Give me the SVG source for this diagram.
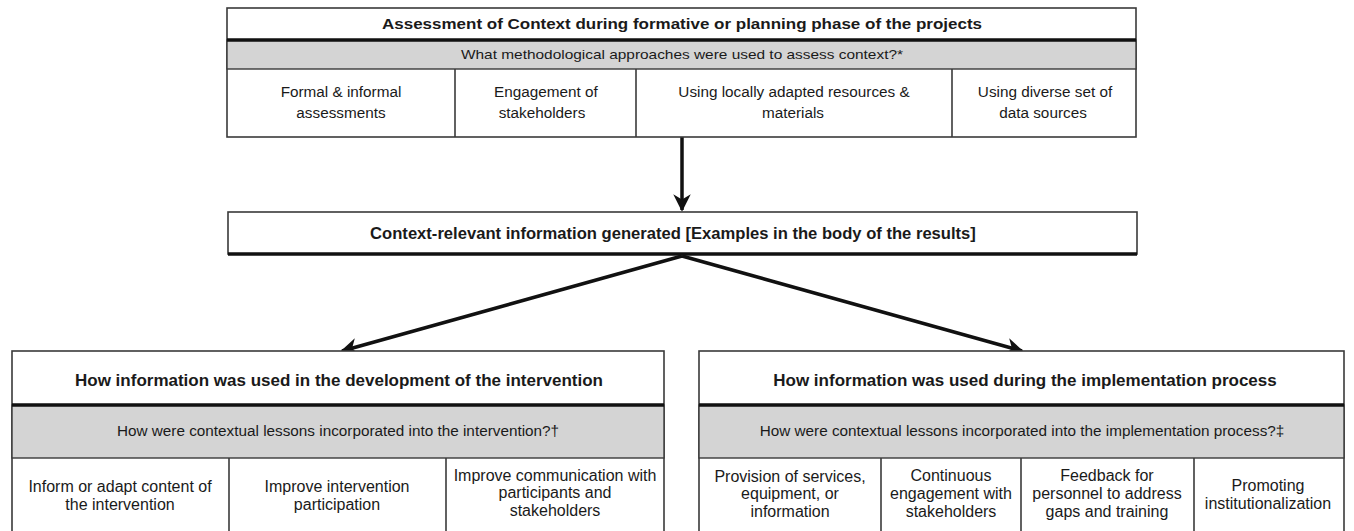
<svg xmlns="http://www.w3.org/2000/svg" width="1354" height="531" viewBox="0 0 1354 531">
<style>
.box{fill:#fff;stroke:#3a3a3a;stroke-width:1.6}
.gray{fill:#d4d4d4;stroke:#3a3a3a;stroke-width:1.4}
.thick{stroke:#111;stroke-width:3.5}
.div{stroke:#3a3a3a;stroke-width:1.6}
text{font-family:"Liberation Sans",Arial,sans-serif;fill:#1a1a1a;text-anchor:middle}
.n{font-family:"Liberation Sans Narrow","Arial Narrow","Liberation Sans",sans-serif}
.t{font-size:15px;font-weight:bold}
.g{font-size:13px}
.c{font-size:15.3px}
.h{font-size:17px;font-weight:bold}
.m{font-size:16.6px;font-weight:bold}
.gn{font-size:15.3px}
.r{font-size:16px}
.conn{stroke:#111;stroke-width:3.5;fill:none}
</style>
<defs>
<marker id="ah" viewBox="0 0 10 10" refX="9" refY="5" markerWidth="5" markerHeight="5" markerUnits="strokeWidth" orient="auto">
<path d="M0,0 L10,5 L0,10 L3,5 Z" fill="#111"/>
</marker>
</defs>

<g id="connectors">
<line class="conn" x1="682" y1="137" x2="682" y2="210" marker-end="url(#ah)"/>
<line class="conn" x1="682" y1="256" x2="342" y2="351" marker-end="url(#ah)"/>
<line class="conn" x1="682" y1="256" x2="1022" y2="351" marker-end="url(#ah)"/>
</g>

<g id="assessment">
<rect class="box" x="227" y="8" width="909" height="129"/>
<rect class="gray" x="227" y="40" width="909" height="29"/>
<line class="thick" x1="227" y1="40" x2="1136" y2="40"/>
<line class="div" x1="455" y1="69" x2="455" y2="137"/>
<line class="div" x1="636" y1="69" x2="636" y2="137"/>
<line class="div" x1="952" y1="69" x2="952" y2="137"/>
<text class="t" x="682" y="29" textLength="600" lengthAdjust="spacingAndGlyphs">Assessment of Context during formative or planning phase of the projects</text>
<text class="g" x="682" y="59" textLength="442" lengthAdjust="spacingAndGlyphs">What methodological approaches were used to assess context?*</text>
<text class="c" x="341" y="97">Formal &amp; informal</text>
<text class="c" x="341" y="118">assessments</text>
<text class="c" x="546" y="97">Engagement of</text>
<text class="c" x="542" y="118">stakeholders</text>
<text class="c" x="794" y="97">Using locally adapted resources &amp;</text>
<text class="c" x="793" y="118">materials</text>
<text class="c" x="1045" y="97">Using diverse set of</text>
<text class="c" x="1043" y="118">data sources</text>
</g>

<g id="context-info">
<rect class="box" x="228" y="212" width="909" height="42"/>
<line class="thick" x1="228" y1="254" x2="1137" y2="254"/>
<text class="m n" x="673" y="239">Context-relevant information generated [Examples in the body of the results]</text>
</g>

<g id="development">
<rect class="box" x="12" y="351" width="652" height="190"/>
<rect class="gray" x="12" y="405" width="652" height="53"/>
<line class="thick" x1="12" y1="405" x2="664" y2="405"/>
<line class="div" x1="229" y1="458" x2="229" y2="541"/>
<line class="div" x1="446" y1="458" x2="446" y2="541"/>
<text class="h n" x="339" y="386">How information was used in the development of the intervention</text>
<text class="gn n" x="338" y="436">How were contextual lessons incorporated into the intervention?†</text>
<text class="r n" x="120" y="492">Inform or adapt content of</text>
<text class="r n" x="120" y="510">the intervention</text>
<text class="r n" x="337" y="492">Improve intervention</text>
<text class="r n" x="337" y="510">participation</text>
<text class="r n" x="555" y="481">Improve communication with</text>
<text class="r n" x="555" y="498">participants and</text>
<text class="r n" x="555" y="516">stakeholders</text>
</g>

<g id="implementation">
<rect class="box" x="699" y="351" width="645" height="190"/>
<rect class="gray" x="699" y="405" width="645" height="53"/>
<line class="thick" x1="699" y1="405" x2="1344" y2="405"/>
<line class="div" x1="881" y1="458" x2="881" y2="541"/>
<line class="div" x1="1021" y1="458" x2="1021" y2="541"/>
<line class="div" x1="1194" y1="458" x2="1194" y2="541"/>
<text class="h n" x="1025" y="386">How information was used during the implementation process</text>
<text class="gn n" x="1022" y="436">How were contextual lessons incorporated into the implementation  process?‡</text>
<text class="r n" x="790" y="482">Provision of services,</text>
<text class="r n" x="790" y="499">equipment, or</text>
<text class="r n" x="790" y="517">information</text>
<text class="r n" x="951" y="481">Continuous</text>
<text class="r n" x="951" y="499">engagement with</text>
<text class="r n" x="951" y="517">stakeholders</text>
<text class="r n" x="1107" y="481">Feedback for</text>
<text class="r n" x="1107" y="499">personnel to address</text>
<text class="r n" x="1107" y="517">gaps and training</text>
<text class="r n" x="1268" y="491">Promoting</text>
<text class="r n" x="1268" y="509">institutionalization</text>
</g>
</svg>
